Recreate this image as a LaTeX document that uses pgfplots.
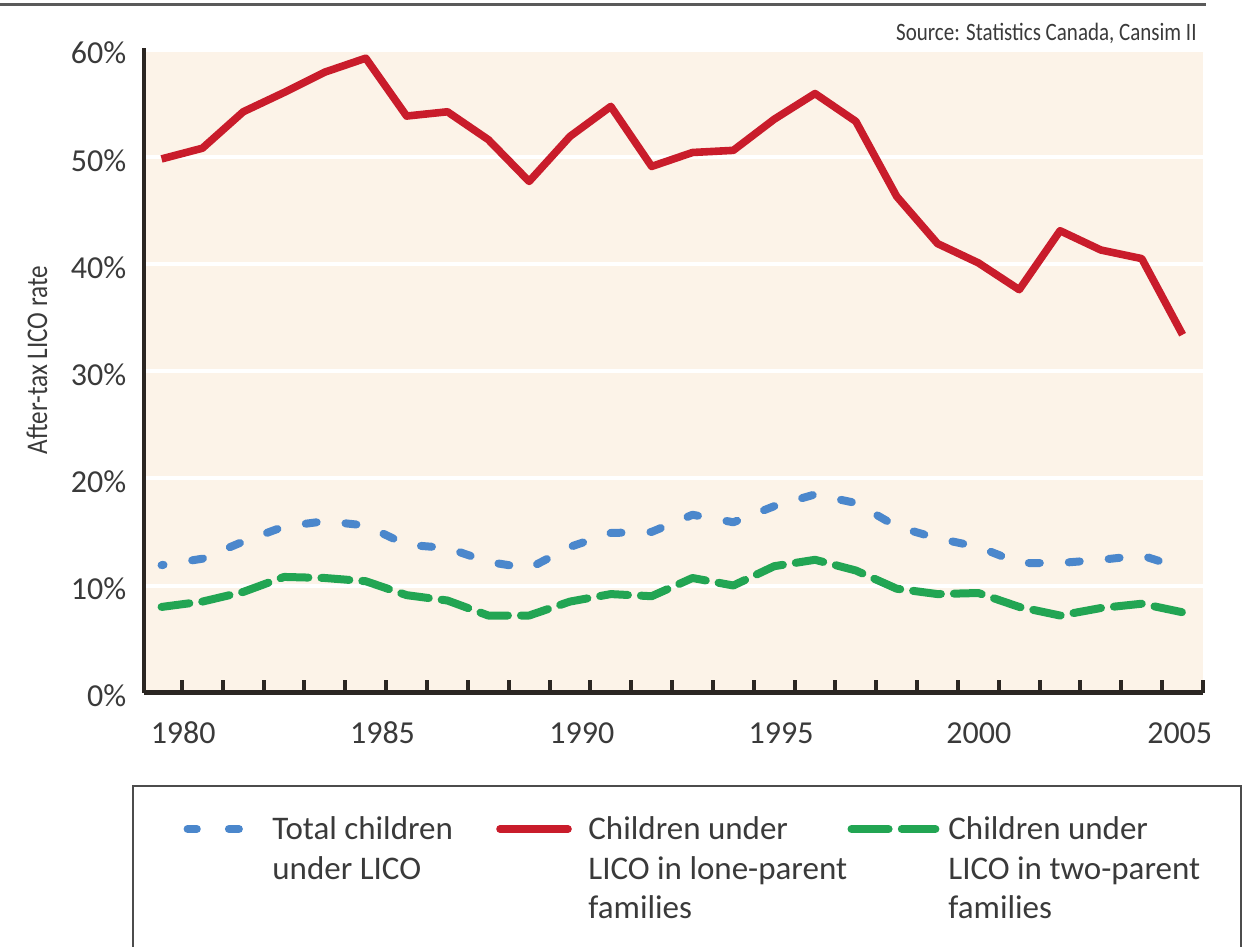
\documentclass[border=0pt]{standalone}
\usepackage{fontspec}
\setmainfont{Carlito}
\newfontfamily\condfont[FakeStretch=0.84]{Carlito}
\usepackage{pgfplots}
\pgfplotsset{compat=1.18}

\definecolor{cred}{HTML}{C91C2B}
\definecolor{cblue}{HTML}{4B87CC}
\definecolor{cgreen}{HTML}{22A553}
\definecolor{bgc}{HTML}{FCF3E8}
\definecolor{axisc}{HTML}{2B2622}
\definecolor{txt}{HTML}{3A3A3A}
\definecolor{rulec}{HTML}{5A5A5A}

\newcommand\tickfont{\fontsize{16}{19}\selectfont}
\newcommand\legfont{\fontsize{16.5}{19.75}\selectfont}

% after-tax LICO rates (%), children
\pgfplotstableread{
year total lone two
1980 11.9 49.8  8.0
1981 12.5 50.8  8.5
1982 14.1 54.2  9.4
1983 15.5 56.0 10.8
1984 16.0 57.9 10.7
1985 15.6 59.2 10.4
1986 13.8 53.8  9.1
1987 13.5 54.2  8.6
1988 12.2 51.6  7.2
1989 11.6 47.7  7.2
1990 13.6 51.9  8.5
1991 14.9 54.7  9.2
1992 15.0 49.1  9.0
1993 16.6 50.4 10.7
1994 15.9 50.6 10.0
1995 17.4 53.5 11.8
1996 18.5 55.9 12.4
1997 17.7 53.3 11.4
1998 15.5 46.3  9.7
1999 14.4 41.9  9.2
2000 13.6 40.1  9.3
2001 12.1 37.6  8.0
2002 12.1 43.1  7.2
2003 12.4 41.3  7.9
2004 12.8 40.5  8.3
2005 11.6 33.4  7.5
}\licodata

\begin{document}
\begin{tikzpicture}
\useasboundingbox (0,0) rectangle (622pt,473.5pt);

\begin{axis}[
  at={(72pt,127.15pt)}, anchor=south west,
  scale only axis, width=529.5pt, height=322.35pt,
  xmin=1979.57, xmax=2005.5, ymin=0, ymax=60.15,
  axis lines=left,
  axis line style={-, line width=2.2pt, draw=axisc},
  axis background/.style={fill=bgc},
  tick align=inside,
  major tick length=6.5pt,
  xtick={1980.5,1981.5,...,2005.5}, xticklabels={},
  xtick style={line width=2pt, draw=axisc},
  extra x ticks={1980.53,1985.41,1990.29,1995.17,2000.01,2004.93},
  extra x tick labels={1980,1985,1990,1995,2000,2005},
  extra x tick style={major tick length=0pt},
  xticklabel style={anchor=base, yshift=-25.3pt, inner sep=0pt, font=\tickfont, text=txt},
  ytick={0,10,...,60},
  ytick style={draw=none},
  yticklabel={\pgfmathprintnumber{\tick}\%},
  yticklabel style={anchor=east, xshift=-8.7pt, yshift=-1.75pt, inner sep=0pt, font=\tickfont, text=txt},
  /pgf/number format/assume math mode=true,
  ymajorgrids, grid style={white, line width=2pt},
  no markers,
]
\addplot[cgreen, line width=4pt, line cap=round, line join=round,
  dash pattern=on 14pt off 6.5pt] table[x=year, y=two] {\licodata};
\addplot[cblue, line width=4pt, line cap=round, line join=round,
  dash pattern=on 5.5pt off 14.5pt, dash phase=4.5pt] table[x=year, y=total] {\licodata};
\addplot[cred, line width=3.8pt, line join=round] table[x=year, y=lone] {\licodata};
\end{axis}

% page furniture and legend, in pixel units from the top left corner
\begin{scope}[x=0.5pt, y=-0.5pt, shift={(0pt,473.5pt)}]
  \draw[rulec, line width=1.5pt] (0,4.7) -- (1206,4.7);
  \node[anchor=base east, inner sep=0pt, font=\condfont\fontsize{12.5}{15}\selectfont, text=txt]
    at (1197,40.7) {Source: Statistics Canada, Cansim II};
  \node[rotate=90, inner sep=0pt, font=\condfont\fontsize{15}{18}\selectfont, text=txt]
    at (37,360) {After-tax LICO rate};

  \draw[gray!60!black, line width=1pt] (1241,960) -- (1241,786) -- (133,786) -- (133,960);

  \draw[cblue, line width=4pt, line cap=round] (187.6,829) -- (196.8,829);
  \draw[cblue, line width=4pt, line cap=round] (228.9,829) -- (238.9,829);
  \draw[cred, line width=3.8pt, line cap=round] (500,829) -- (568,829);
  \draw[cgreen, line width=4pt, line cap=round] (851.5,829) -- (888.6,829);
  \draw[cgreen, line width=4pt, line cap=round] (901.8,829) -- (935.4,829);

  \begin{scope}[every node/.style={anchor=base west, inner sep=0pt, font=\legfont, text=txt}]
    \node at (272,840) {Total children};
    \node at (272,879.5) {under LICO};
    \node at (588,840) {Children under};
    \node at (588,879.5) {LICO in lone-parent};
    \node at (588,919) {families};
    \node at (948,840) {Children under};
    \node at (948,879.5) {LICO in two-parent};
    \node at (948,919) {families};
  \end{scope}
\end{scope}
\end{tikzpicture}
\end{document}
